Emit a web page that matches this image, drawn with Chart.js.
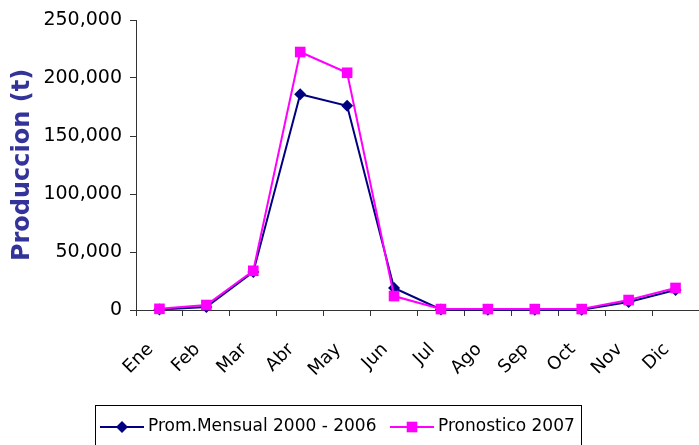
<!DOCTYPE html>
<html>
<head>
<meta charset="utf-8">
<script src="https://cdn.jsdelivr.net/npm/chart.js@4/dist/chart.umd.min.js"></script>
<style>
  body { margin: 0; background: #fff; }
  #wrap { width: 699px; height: 445px; }
</style>
</head>
<body>
<div id="wrap"><canvas id="chart" width="699" height="445"></canvas></div>
<script>
// Data
const months = ['Ene', 'Feb', 'Mar', 'Abr', 'May', 'Jun', 'Jul', 'Ago', 'Sep', 'Oct', 'Nov', 'Dic'];
const promMensual = [500, 2600, 32800, 186000, 176000, 19000, 500, 300, 300, 300, 6900, 17200];
const pronostico = [1000, 4300, 33800, 222400, 204500, 12000, 800, 800, 800, 800, 8600, 19000];
const seriesNames = ['Prom.Mensual 2000 - 2006', 'Pronostico 2007'];
const yTicks = [0, 50000, 100000, 150000, 200000, 250000];

const NAVY = '#000080';
const MAGENTA = '#ff00ff';
const FONT = 'DejaVu Sans';

// Excel style legend: boxed, line + marker per series
const boxLegend = {
  id: 'boxLegend',
  afterDraw(chart) {
    const ctx = chart.ctx;
    ctx.save();
    ctx.strokeStyle = '#000';
    ctx.lineWidth = 1;
    ctx.strokeRect(95.5, 405.5, 486, 45);

    const items = [
      { x: 100, color: NAVY, style: 'rectRot', radius: 6, text: seriesNames[0] },
      { x: 390, color: MAGENTA, style: 'rect', radius: 7.5, text: seriesNames[1] }
    ];
    const y = 427;
    items.forEach(it => {
      ctx.strokeStyle = it.color;
      ctx.lineWidth = 2;
      ctx.beginPath();
      ctx.moveTo(it.x, y);
      ctx.lineTo(it.x + 44, y);
      ctx.stroke();
      ctx.fillStyle = it.color;
      Chart.helpers.drawPoint(ctx, { pointStyle: it.style, radius: it.radius, borderWidth: 0 }, it.x + 22, y);
      ctx.fillStyle = '#000';
      ctx.font = '17px ' + FONT;
      ctx.textBaseline = 'middle';
      ctx.fillText(it.text, it.x + 48, y);
    });
    ctx.restore();
  }
};

const ctx = document.getElementById('chart').getContext('2d');

new Chart(ctx, {
  type: 'line',
  data: {
    labels: months,
    datasets: [
      {
        label: seriesNames[0],
        data: promMensual,
        borderColor: NAVY,
        backgroundColor: NAVY,
        borderWidth: 2,
        pointStyle: 'rectRot',
        pointRadius: 6,
        pointBorderWidth: 0,
        order: 1,
        tension: 0,
        clip: false
      },
      {
        label: seriesNames[1],
        data: pronostico,
        borderColor: MAGENTA,
        backgroundColor: MAGENTA,
        borderWidth: 2,
        pointStyle: 'rect',
        pointRadius: 7.5,
        pointBorderWidth: 0,
        order: 0,
        tension: 0,
        clip: false
      }
    ]
  },
  options: {
    responsive: false,
    animation: false,
    layout: { autoPadding: false, padding: { top: 20, right: -2, left: 0, bottom: 0 } },
    plugins: {
      legend: { display: false },
      tooltip: { enabled: false }
    },
    scales: {
      x: {
        offset: true,
        grid: {
          offset: true,
          drawOnChartArea: false,
          tickLength: 6,
          tickColor: '#333'
        },
        border: { color: '#333', width: 1 },
        ticks: {
          color: '#000',
          font: { family: FONT, size: 18 },
          maxRotation: 45,
          minRotation: 45,
          padding: 23,
          labelOffset: -9
        },
        afterFit: s => { s.height = 135; s.paddingLeft = 0; s.paddingRight = 0; }
      },
      y: {
        min: 0,
        max: 250000,
        afterBuildTicks: s => { s.ticks = yTicks.map(v => ({ value: v })); },
        grid: {
          drawOnChartArea: false,
          tickLength: 6,
          tickColor: '#333'
        },
        border: { color: '#333', width: 1 },
        ticks: {
          color: '#000',
          font: { family: FONT, size: 19 },
          padding: 8,
          callback: v => v.toLocaleString('en-US')
        },
        title: {
          display: true,
          text: 'Produccion (t)',
          color: '#333399',
          font: { family: FONT, size: 24, weight: 'bold' },
          padding: { top: 8, bottom: 0 }
        },
        afterFit: s => { s.width = 136; s.paddingTop = 0; s.paddingBottom = 0; }
      }
    }
  },
  plugins: [boxLegend]
});
</script>
</body>
</html>
